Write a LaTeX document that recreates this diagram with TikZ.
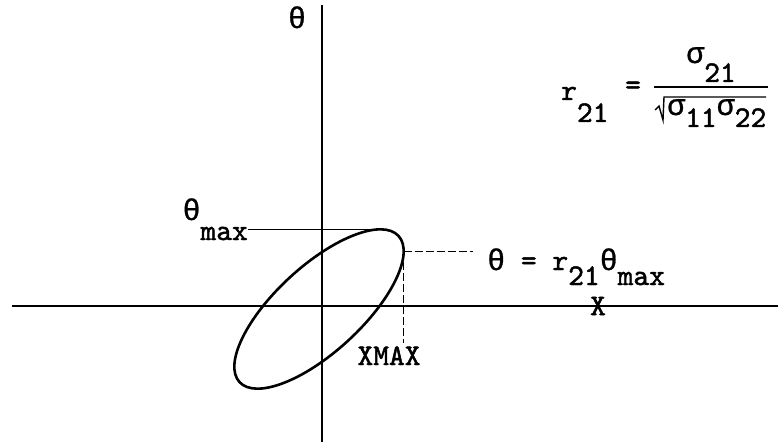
\documentclass[tikz,border=0pt]{standalone}
\usepackage{fontspec}
\setmainfont{Liberation Mono}
\setmonofont{lmmono10-regular}[Extension=.otf,FakeBold=1.6]
\newfontfamily\grk{Liberation Mono}[FakeBold=0.8]
\newcommand\lowr[2]{\raisebox{-#1}{#2}}
\newcommand\tht{{\grk θ}}
\newcommand\sig{{\grk σ}}
\begin{document}
\begin{tikzpicture}[x=1pt,y=1pt,
  axis/.style={line width=1.8pt},
  curve/.style={line width=2.6pt},
  guide/.style={line width=1.2pt},
  guidedash/.style={line width=1.2pt,dash pattern=on 8pt off 3pt},
  lbl/.style={inner sep=0pt,font=\fontsize{30}{32}\ttfamily}]
\useasboundingbox (0,0) rectangle (783,442);
% axes
\coordinate (yt) at (322,437);
\coordinate (yb) at (322,0);
\coordinate (xl) at (12,136);
\coordinate (xr) at (778,136);
\draw[axis] (yb) -- (yt);
\draw[axis] (xl) -- (xr);
\node[lbl,anchor=base] (thetaax) at (297,414) {\tht};
\node[lbl] (xax) at (598,136) {X};
% ellipse
\draw[curve,rotate around={42.6:(319,133)}] (319,133) ellipse [x radius=108, y radius=43];
\coordinate (top) at (380.4,212.7);
\coordinate (rt) at (403.7,190.8);
% theta max
\node[lbl,anchor=base east] (thmax) at (248,222) {\tht\lowr{20pt}{max}};
\draw[guide] (thmax.base east |- top) -- (top);
% right label
\node[lbl,anchor=base west] (rlab) at (487,172) {\tht{} = r\lowr{15pt}{21}\tht\lowr{15pt}{max}};
\coordinate (rend) at (473,190.8);
\draw[guidedash] (rt) -- (rend);
% xmax
\node[lbl,anchor=base] (xmax) at (389,77) {XMAX};
\coordinate (xend) at (403.7,99);
\draw[guidedash] (rt) -- (xend);
% formula
\node[lbl,anchor=base west] (r21) at (561,342) {r\lowr{22pt}{21}};
\node[lbl] (eq) at (633,354) {=};
\coordinate (barl) at (654,355);
\coordinate (barr) at (768,355);
\draw[line width=1.4pt] (barl) -- (barr);
\node[lbl,anchor=base] (num) at (711,379) {\sig\lowr{19pt}{21}};
\node[lbl,anchor=base west] (den) at (667,327) {\sig\lowr{12pt}{11}\sig\lowr{12pt}{22}};
\draw[line width=1.4pt] (655,332) -- (659,336) -- (663,322) -- (664,345) -- (766,345);
\end{tikzpicture}
\end{document}
